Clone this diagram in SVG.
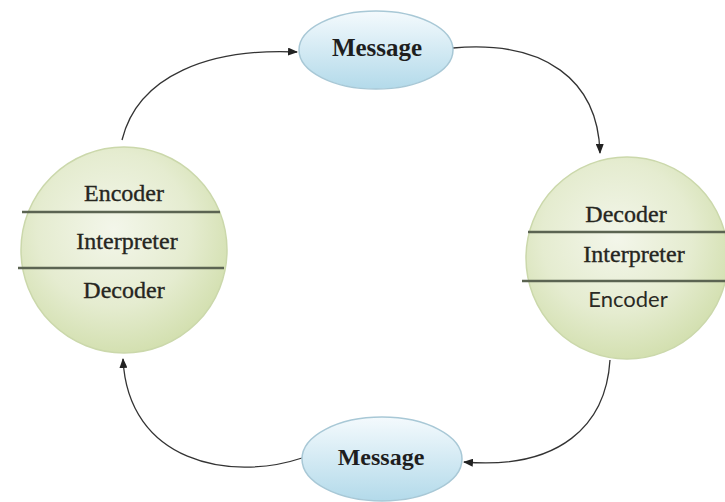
<svg xmlns="http://www.w3.org/2000/svg" width="725" height="502" viewBox="0 0 725 502">
<defs>
<radialGradient id="gGreen" cx="0.45" cy="0.4" r="0.62">
<stop offset="0" stop-color="#f3f6ea"/>
<stop offset="0.6" stop-color="#e5ecd0"/>
<stop offset="1" stop-color="#d2dfae"/>
</radialGradient>
<linearGradient id="gBlue" x1="0" y1="0" x2="0" y2="1">
<stop offset="0" stop-color="#f4fafd"/>
<stop offset="1" stop-color="#b3daea"/>
</linearGradient>
<marker id="arr" markerWidth="10" markerHeight="8" refX="9" refY="4" orient="auto" markerUnits="userSpaceOnUse">
<path d="M0,0 L10,4 L0,8 Z" fill="#222"/>
</marker>
<style>
.circ{fill:url(#gGreen);stroke:#cbd8ab;stroke-width:1.5}
.msg{fill:url(#gBlue);stroke:#a8c8d6;stroke-width:1.5}
.sep{stroke:#5b6452;stroke-width:2.5}
.serif{font-family:"Liberation Serif","Times New Roman",serif;fill:#26261f;stroke:#26261f;stroke-width:0.35;text-anchor:middle}
.sans{font-family:Lato,"Liberation Sans",sans-serif;fill:#2a2a24;text-anchor:middle}
.mtxt{font-family:"Liberation Serif","Times New Roman",serif;font-weight:bold;fill:#1e1e1e;text-anchor:middle}
.conn{fill:none;stroke:#333;stroke-width:1.3;marker-end:url(#arr)}
</style>
</defs>
<rect width="725" height="502" fill="#ffffff"/>
<g id="connectors">
<path class="conn" d="M122,140 C138,75 210,48 297,52"/>
<path class="conn" d="M453,48 C545,40 598,80 600,153"/>
<path class="conn" d="M610,360 C606,425 560,470 464,462"/>
<path class="conn" d="M302,458 C230,482 128,462 123,359"/>
</g>
<g id="left-node">
<circle class="circ" cx="124" cy="250" r="103"/>
<line class="sep" x1="22" y1="212" x2="220" y2="212"/>
<line class="sep" x1="18" y1="268" x2="224" y2="268"/>
<text class="serif" x="124" y="201" font-size="24">Encoder</text>
<text class="serif" x="127" y="249" font-size="24">Interpreter</text>
<text class="serif" x="124" y="298" font-size="24">Decoder</text>
</g>
<g id="right-node">
<circle class="circ" cx="627" cy="258" r="101"/>
<line class="sep" x1="528" y1="232" x2="725" y2="232"/>
<line class="sep" x1="522" y1="281" x2="725" y2="281"/>
<text class="serif" x="626" y="222" font-size="24">Decoder</text>
<text class="serif" x="634" y="262" font-size="24">Interpreter</text>
<text class="sans" x="628" y="307" font-size="22">Encoder</text>
</g>
<g id="message-top">
<ellipse class="msg" cx="376" cy="50" rx="77" ry="39"/>
<text class="mtxt" x="377" y="56" font-size="25">Message</text>
</g>
<g id="message-bottom">
<ellipse class="msg" cx="382" cy="459" rx="80" ry="42"/>
<text class="mtxt" x="381" y="465" font-size="24">Message</text>
</g>
</svg>
